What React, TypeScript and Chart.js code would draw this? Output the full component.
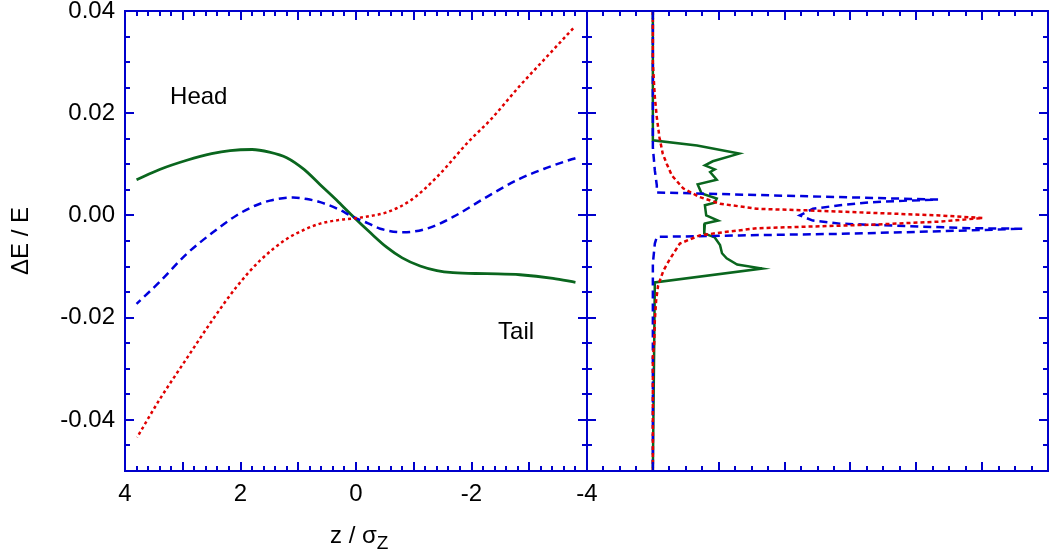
import React, { useEffect, useRef } from 'react';
import { Chart, registerables } from 'chart.js';

Chart.register(...registerables);

const FONT = "'Liberation Sans', Arial, Helvetica, sans-serif";
const AXIS_BLUE = '#0000cc';
const GREEN = '#0a661e';
const BLUE = '#0000dd';
const RED = '#e00000';

// ---- Left panel: dE/E versus z / sigma_z ----
const greenZ = [3.8, 3.4, 2.93, 2.5, 2.18, 1.8, 1.5, 1.2, 0.9, 0.62, 0.3, 0.05, -0.25, -0.53, -0.8, -1.11, -1.4, -1.68, -2.26, -2.84, -3.41, -3.8];
const greenE = [0.007, 0.009, 0.0108, 0.0121, 0.0127, 0.0129, 0.0124, 0.0113, 0.009, 0.006, 0.0026, -0.0002, -0.0034, -0.0062, -0.0083, -0.0099, -0.0108, -0.0112, -0.0114, -0.0116, -0.0123, -0.0131];

const blueZ = [3.8, 3.4, 2.93, 2.5, 2.07, 1.75, 1.49, 1.09, 0.85, 0.62, 0.3, 0.05, -0.2, -0.42, -0.82, -1.22, -1.68, -2.26, -2.84, -3.3, -3.71, -3.8];
const blueE = [-0.0173, -0.013, -0.0075, -0.0035, 0.0, 0.0019, 0.0029, 0.0035, 0.0032, 0.0026, 0.0012, -0.0003, -0.0015, -0.0026, -0.0033, -0.0026, -0.0003, 0.0036, 0.0072, 0.0093, 0.0109, 0.0112];

const redZ = [3.79, 3.4, 2.95, 2.47, 2.07, 1.66, 1.2, 0.9, 0.62, 0.3, 0.05, -0.25, -0.53, -0.94, -1.4, -1.97, -2.32, -2.84, -3.3, -3.76];
const redE = [-0.0434, -0.036, -0.0283, -0.0202, -0.014, -0.0088, -0.0046, -0.0028, -0.0016, -0.0009, -0.0006, -0.0001, 0.0006, 0.0029, 0.0075, 0.0147, 0.0186, 0.0254, 0.031, 0.0366];

// ---- Right panel: energy distributions (counts, dE/E) ----
const histGreenN = [1.0, 1.0, 1.67, 2.31, 1.91, 1.79, 1.94, 1.87, 1.97, 1.68, 1.74, 1.97, 1.94, 1.79, 1.81, 1.99, 1.79, 1.78, 1.94, 2.02, 2.05, 2.12, 2.28, 2.66, 1.03, 1.0];
const histGreenE = [0.04, 0.0147, 0.0137, 0.0121, 0.0106, 0.0098, 0.009, 0.0085, 0.007, 0.0061, 0.0043, 0.0033, 0.0025, 0.002, 0.0, -0.001, -0.0016, -0.0035, -0.0043, -0.0058, -0.0074, -0.0084, -0.0096, -0.0104, -0.0131, -0.05];

const histBlueN = [1.0, 1.0, 1.03, 1.06, 1.06, 5.33, 4.86, 4.34, 3.84, 3.43, 3.23, 3.43, 3.84, 4.86, 5.86, 6.62, 5.36, 3.84, 2.32, 1.06, 1.03, 1.0, 1.0];
const histBlueE = [0.04, 0.0133, 0.0088, 0.0059, 0.0045, 0.0031, 0.0029, 0.0026, 0.002, 0.0013, 0.0, -0.001, -0.0016, -0.0021, -0.0025, -0.0026, -0.0031, -0.0036, -0.0039, -0.0042, -0.0055, -0.0094, -0.05];

const histRedN = [1.0, 1.0, 1.03, 1.06, 1.1, 1.15, 1.21, 1.29, 1.46, 1.71, 2.02, 2.58, 3.33, 4.34, 5.36, 6.01, 5.36, 4.34, 3.33, 2.58, 2.06, 1.71, 1.41, 1.36, 1.26, 1.16, 1.08, 1.05, 1.03, 1.02, 1.0, 1.0];
const histRedE = [0.04, 0.0297, 0.0232, 0.0192, 0.0153, 0.0121, 0.0101, 0.0078, 0.0053, 0.0036, 0.0023, 0.0013, 0.001, 0.0005, 0.0, -0.0005, -0.0012, -0.0018, -0.0022, -0.0025, -0.0033, -0.0039, -0.0055, -0.0065, -0.0085, -0.0108, -0.0137, -0.0166, -0.0205, -0.025, -0.0278, -0.05];

// ---- Ticks / labels ----
const zTickValues = [4, 2, 0, -2, -4];
const eTickValues = [0.04, 0.02, 0.0, -0.02, -0.04];
const notes = [
  { text: 'Head', z: 3.22, e: 0.0219 },
  { text: 'Tail', z: -2.46, e: -0.0241 },
];

function pts(xs: number[], ys: number[]) {
  return xs.map((x, i) => ({ x, y: ys[i] }));
}
function sortedPts(xs: number[], ys: number[]) {
  return pts(xs, ys).sort((a, b) => a.x - b.x);
}

const framePlugin = {
  id: 'frameTicks',
  afterDatasetsDraw(chart: any, _args: any, opts: any) {
    const { ctx, chartArea: a, scales } = chart;
    const xs = scales.x;
    const ys = scales.y;
    ctx.save();
    ctx.strokeStyle = AXIS_BLUE;
    ctx.lineWidth = 2;
    ctx.setLineDash([]);
    ctx.beginPath();
    const nx = Math.round((opts.xMax - opts.xMin) / opts.xMinor);
    for (let i = 0; i <= nx; i++) {
      const v = opts.xMin + i * opts.xMinor;
      const px = Math.round(xs.getPixelForValue(v));
      const r = v / opts.xMajor;
      const len = Math.abs(r - Math.round(r)) < 1e-6 ? 9 : 5;
      ctx.moveTo(px, a.bottom);
      ctx.lineTo(px, a.bottom - len);
      ctx.moveTo(px, a.top);
      ctx.lineTo(px, a.top + len);
    }
    const ny = Math.round((opts.yMax - opts.yMin) / opts.yMinor);
    for (let i = 0; i <= ny; i++) {
      const v = opts.yMin + i * opts.yMinor;
      const py = Math.round(ys.getPixelForValue(v));
      const r = v / opts.yMajor;
      const len = Math.abs(r - Math.round(r)) < 1e-6 ? 9 : 5;
      ctx.moveTo(a.left, py);
      ctx.lineTo(a.left + len, py);
      ctx.moveTo(a.right, py);
      ctx.lineTo(a.right - len, py);
    }
    ctx.stroke();
    ctx.strokeRect(a.left, a.top, a.right - a.left, a.bottom - a.top);
    if (opts.notes) {
      ctx.fillStyle = '#000';
      ctx.font = `24px ${FONT}`;
      ctx.textBaseline = 'alphabetic';
      ctx.textAlign = 'left';
      for (const n of opts.notes) {
        ctx.fillText(n.text, xs.getPixelForValue(n.z), ys.getPixelForValue(n.e));
      }
    }
    ctx.restore();
  },
};

export default function App() {
  const leftRef = useRef<HTMLCanvasElement>(null);
  const rightRef = useRef<HTMLCanvasElement>(null);

  useEffect(() => {
    const tickFont = { family: FONT, size: 24, lineHeight: 0.9 };
    const smooth = { tension: 0.4, cubicInterpolationMode: 'monotone' as const };
    const left = new Chart(leftRef.current as HTMLCanvasElement, {
      type: 'scatter',
      data: {
        datasets: [
          { data: sortedPts(redZ, redE), showLine: true, borderColor: RED, borderWidth: 2.5, borderDash: [3, 3], pointRadius: 0, fill: false, ...smooth },
          { data: sortedPts(blueZ, blueE), showLine: true, borderColor: BLUE, borderWidth: 2.5, borderDash: [8, 5], pointRadius: 0, fill: false, ...smooth },
          { data: sortedPts(greenZ, greenE), showLine: true, borderColor: GREEN, borderWidth: 2.8, pointRadius: 0, fill: false, ...smooth },
        ],
      },
      options: {
        responsive: false,
        animation: false,
        events: [],
        layout: { padding: { left: 0, top: 11, right: 463, bottom: 0 } },
        plugins: {
          legend: { display: false },
          tooltip: { enabled: false },
          frameTicks: { xMin: -4, xMax: 4, xMinor: 0.2, xMajor: 1, yMin: -0.05, yMax: 0.04, yMinor: 0.005, yMajor: 0.02, notes },
        } as any,
        scales: {
          x: {
            type: 'linear',
            min: -4,
            max: 4,
            reverse: true,
            grid: { display: false, drawTicks: false },
            border: { display: false },
            afterFit: (s: any) => { s.height = 83; s.paddingLeft = 0; s.paddingRight = 0; },
            afterBuildTicks: (s: any) => { s.ticks = zTickValues.map((v) => ({ value: v })); },
            ticks: { padding: 13, font: tickFont, color: '#000', maxRotation: 0, autoSkip: false, callback: (v: any) => String(v) },
          },
          y: {
            type: 'linear',
            min: -0.05,
            max: 0.04,
            grid: { display: false, drawTicks: false },
            border: { display: false },
            afterFit: (s: any) => { s.width = 125; s.paddingTop = 0; s.paddingBottom = 0; },
            afterBuildTicks: (s: any) => { s.ticks = eTickValues.map((v) => ({ value: v })); },
            ticks: { padding: 10, font: tickFont, color: '#000', autoSkip: false, callback: (v: any) => Number(v).toFixed(2) },
            title: { display: true, text: 'ΔE / E', color: '#000', font: { family: FONT, size: 24 }, padding: { top: 7, bottom: 0 } },
          },
        },
      },
      plugins: [framePlugin],
    });

    const right = new Chart(rightRef.current as HTMLCanvasElement, {
      type: 'scatter',
      data: {
        datasets: [
          { data: pts(histRedN, histRedE), showLine: true, borderColor: RED, borderWidth: 2.5, borderDash: [4, 3], pointRadius: 0, tension: 0, fill: false },
          { data: pts(histBlueN, histBlueE), showLine: true, borderColor: BLUE, borderWidth: 2.5, borderDash: [8, 5], pointRadius: 0, tension: 0, fill: false },
          { data: pts(histGreenN, histGreenE), showLine: true, borderColor: GREEN, borderWidth: 2.5, pointRadius: 0, tension: 0, fill: false },
        ],
      },
      options: {
        responsive: false,
        animation: false,
        events: [],
        layout: { padding: { left: 587, top: 11, right: 2, bottom: 83 } },
        plugins: {
          legend: { display: false },
          tooltip: { enabled: false },
          frameTicks: { xMin: 0, xMax: 7, xMinor: 0.25, xMajor: 1, yMin: -0.05, yMax: 0.04, yMinor: 0.005, yMajor: 0.02 },
        } as any,
        scales: {
          x: { type: 'linear', min: 0, max: 7, display: false },
          y: { type: 'linear', min: -0.05, max: 0.04, display: false },
        },
      },
      plugins: [framePlugin],
    });

    return () => {
      left.destroy();
      right.destroy();
    };
  }, []);

  return (
    <div style={{ position: 'absolute', left: 0, top: 0, width: 1050, height: 554, background: '#fff' }}>
      <canvas ref={leftRef} width={1050} height={554} style={{ position: 'absolute', left: 0, top: 0 }} />
      <canvas ref={rightRef} width={1050} height={554} style={{ position: 'absolute', left: 0, top: 0 }} />
      <div
        style={{
          position: 'absolute',
          left: 330,
          top: 523,
          fontFamily: FONT,
          fontSize: 24,
          lineHeight: '24px',
          color: '#000',
          whiteSpace: 'nowrap',
        }}
      >
        z / σ<span style={{ fontSize: 19, position: 'relative', top: 6 }}>Z</span>
      </div>
    </div>
  );
}
